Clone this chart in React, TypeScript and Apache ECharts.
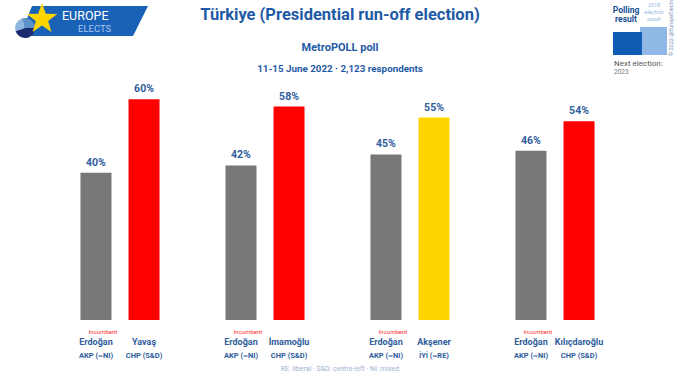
import React, { useEffect, useRef } from "react";
import * as echarts from "echarts";

const groups = ["G1", "G2", "G3", "G4"];
const incumbentNames = ["Erdoğan", "Erdoğan", "Erdoğan", "Erdoğan"];
const incumbentParties = ["AKP (~NI)", "AKP (~NI)", "AKP (~NI)", "AKP (~NI)"];
const incumbentValues = [40, 42, 45, 46];
const challengerNames = ["Yavaş", "İmamoğlu", "Akşener", "Kılıçdaroğlu"];
const challengerParties = ["CHP (S&D)", "CHP (S&D)", "İYİ (~RE)", "CHP (S&D)"];
const challengerValues = [60, 58, 55, 54];
const challengerColors = ["#ff0000", "#ff0000", "#ffd500", "#ff0000"];

const BLUE = "#1f5aa6";
const LABEL_BLUE = "#2f5d9c";
const FONT = "Roboto, 'Noto Sans', sans-serif";

function starPoints(cx: number, cy: number, ro: number, ri: number) {
  const pts: number[][] = [];
  for (let i = 0; i < 10; i++) {
    const r = i % 2 === 0 ? ro : ri;
    const a = -Math.PI / 2 + (i * Math.PI) / 5;
    pts.push([cx + r * Math.cos(a), cy + r * Math.sin(a)]);
  }
  return pts;
}

const richBottom = {
  inc: { fontSize: 6, color: "#ff3030", lineHeight: 10, fontFamily: FONT, padding: [0, 0, 0, 14] },
  blank: { fontSize: 6, color: "transparent", lineHeight: 10, fontFamily: FONT },
  name: { fontSize: 9, fontWeight: "bold", color: LABEL_BLUE, lineHeight: 11, fontFamily: FONT },
  party: { fontSize: 7.5, fontWeight: "bold", color: LABEL_BLUE, lineHeight: 17, fontFamily: FONT },
};

export default function App() {
  const ref = useRef<HTMLDivElement>(null);
  useEffect(() => {
    if (!ref.current) return;
    const chart = echarts.init(ref.current, null, { renderer: "svg" });
    const zeros = groups.map(() => 0);
    const topLabel = (vals: number[]) => ({
      show: true,
      position: "top",
      distance: 5,
      fontSize: 10.5,
      fontWeight: "bold",
      fontFamily: FONT,
      color: LABEL_BLUE,
      formatter: (p: any) => `${vals[p.dataIndex]}%`,
    });
    chart.setOption({
      animation: false,
      backgroundColor: "#ffffff",
      grid: { left: 47.5, right: 52.5, top: 25.6, bottom: 62 },
      xAxis: {
        type: "category",
        data: groups,
        axisLine: { show: false },
        axisTick: { show: false },
        axisLabel: { show: false },
        splitLine: { show: false },
      },
      yAxis: {
        type: "value",
        min: 0,
        max: 80,
        show: false,
        splitLine: { show: false },
      },
      series: [
        {
          name: "incumbent",
          type: "bar",
          stack: "a",
          barWidth: 31,
          barGap: "55%",
          data: incumbentValues,
          itemStyle: { color: "#777777" },
          label: {
            show: true,
            position: "bottom",
            distance: 6,
            formatter: (p: any) =>
              `{inc|Incumbent}\n{name|${incumbentNames[p.dataIndex]}}\n{party|${incumbentParties[p.dataIndex]}}`,
            rich: richBottom,
          },
        },
        {
          name: "incumbentTop",
          type: "bar",
          stack: "a",
          barWidth: 31,
          barGap: "55%",
          data: zeros,
          itemStyle: { color: "transparent" },
          label: topLabel(incumbentValues),
        },
        {
          name: "challenger",
          type: "bar",
          stack: "b",
          barWidth: 31,
          barGap: "55%",
          data: challengerValues.map((v, i) => ({ value: v, itemStyle: { color: challengerColors[i] } })),
          label: {
            show: true,
            position: "bottom",
            distance: 6,
            formatter: (p: any) =>
              `{blank| }\n{name|${challengerNames[p.dataIndex]}}\n{party|${challengerParties[p.dataIndex]}}`,
            rich: richBottom,
          },
        },
        {
          name: "challengerTop",
          type: "bar",
          stack: "b",
          barWidth: 31,
          barGap: "55%",
          data: zeros,
          itemStyle: { color: "transparent" },
          label: topLabel(challengerValues),
        },
      ],
      graphic: [
        // title block
        {
          type: "text", left: "center", top: 6,
          style: { text: "Türkiye (Presidential run-off election)", fontSize: 16.5, fontWeight: "bold", fill: BLUE, fontFamily: FONT },
        },
        {
          type: "text", left: "center", top: 42,
          style: { text: "MetroPOLL poll", fontSize: 11, fontWeight: "bold", fill: BLUE, fontFamily: FONT },
        },
        {
          type: "text", left: "center", top: 63,
          style: { text: "11-15 June 2022 · 2,123 respondents", fontSize: 9.8, fontWeight: "bold", fill: BLUE, fontFamily: FONT },
        },
        // footnote
        {
          type: "text", left: "center", top: 365,
          style: { text: "RE: liberal · S&D: centre-left · NI: mixed", fontSize: 7, fill: "#9fb4d4", fontFamily: FONT },
        },
        // logo
        {
          type: "polygon",
          shape: { points: [[32, 6], [148, 6], [133, 36], [20, 36]] },
          style: { fill: "#1a62b8" },
        },
        { type: "sector", shape: { cx: 25, cy: 28, r0: 0, r: 10, startAngle: 0, endAngle: Math.PI * 0.9 }, style: { fill: "#1c2a6e" } },
        { type: "sector", shape: { cx: 25, cy: 28, r0: 0, r: 10, startAngle: Math.PI * 0.9, endAngle: Math.PI * 1.4 }, style: { fill: "#8fb6de" } },
        { type: "sector", shape: { cx: 25, cy: 28, r0: 0, r: 10, startAngle: Math.PI * 1.4, endAngle: Math.PI * 2 }, style: { fill: "#5d8fc8" } },
        {
          type: "polygon",
          shape: { points: starPoints(42, 19, 16, 6.5) },
          style: { fill: "#ffd500" },
        },
        {
          type: "text", x: 62, y: 9,
          style: { text: "EUROPE", fontSize: 12.5, fill: "#ffffff", fontFamily: FONT },
        },
        {
          type: "text", x: 78, y: 23,
          style: { text: "ELECTS", fontSize: 9.5, fill: "#a8c8f0", fontFamily: FONT },
        },
        // top-right legend
        {
          type: "text", x: 626, y: 10, style: { text: "Polling", fontSize: 8.5, fontWeight: "bold", fill: "#1a4f96", align: "center", verticalAlign: "middle", fontFamily: FONT },
        },
        {
          type: "text", x: 626, y: 19, style: { text: "result", fontSize: 8.5, fontWeight: "bold", fill: "#1a4f96", align: "center", verticalAlign: "middle", fontFamily: FONT },
        },
        {
          type: "text", x: 654, y: 5, style: { text: "2018", fontSize: 5.5, fontStyle: "italic", fill: "#8fb6e2", align: "center", verticalAlign: "middle", fontFamily: FONT },
        },
        {
          type: "text", x: 654, y: 12, style: { text: "election", fontSize: 5.5, fontStyle: "italic", fill: "#8fb6e2", align: "center", verticalAlign: "middle", fontFamily: FONT },
        },
        {
          type: "text", x: 654, y: 19, style: { text: "result", fontSize: 5.5, fontStyle: "italic", fill: "#8fb6e2", align: "center", verticalAlign: "middle", fontFamily: FONT },
        },
        { type: "rect", shape: { x: 640, y: 27, width: 27, height: 28 }, style: { fill: "#8fb8e6" } },
        { type: "rect", shape: { x: 613, y: 32, width: 29, height: 23 }, style: { fill: "#0f5cb4" } },
        {
          type: "text", x: 671, y: 28, rotation: Math.PI / 2,
          style: { text: "© 2022 @EuropeElects", fontSize: 5.5, fill: "#7f93b5", align: "center", verticalAlign: "middle", fontFamily: FONT },
        },
        {
          type: "text", x: 614, y: 63, style: { text: "Next election:", fontSize: 8, fill: "#555555", verticalAlign: "middle", fontFamily: FONT },
        },
        {
          type: "text", x: 614, y: 72, style: { text: "2023", fontSize: 6.5, fill: "#777777", verticalAlign: "middle", fontFamily: FONT },
        },
      ],
    });
    return () => chart.dispose();
  }, []);
  return <div ref={ref} style={{ width: 680, height: 382, position: "absolute", left: 0, top: 0 }} />;
}
